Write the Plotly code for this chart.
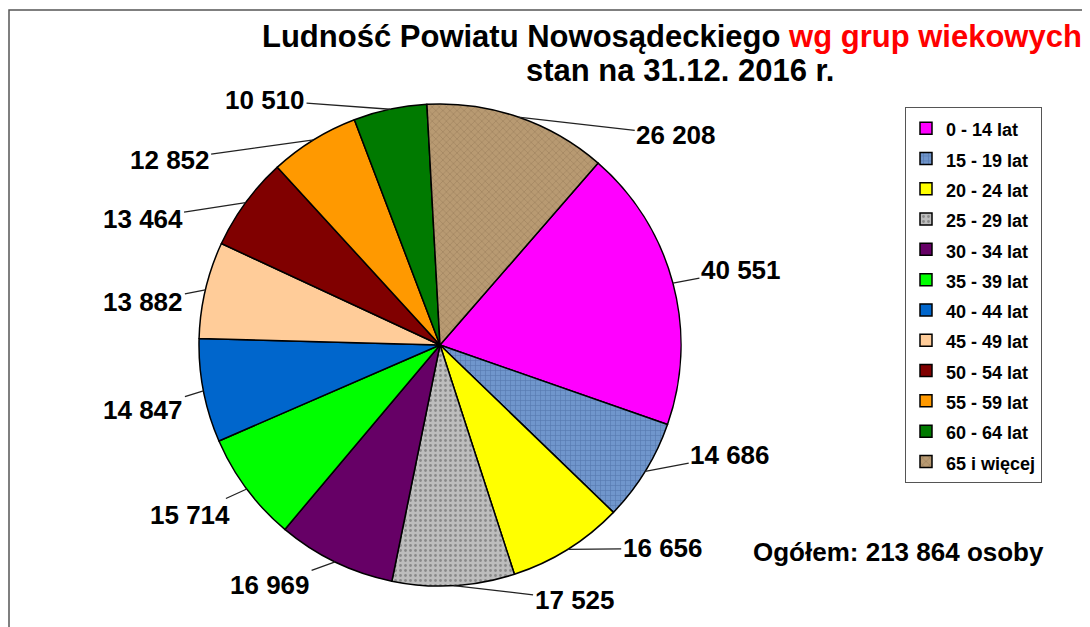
import math
import plotly.graph_objects as go

# ---- data ----
age_groups = ["0 - 14 lat", "15 - 19 lat", "20 - 24 lat", "25 - 29 lat", "30 - 34 lat",
              "35 - 39 lat", "40 - 44 lat", "45 - 49 lat", "50 - 54 lat", "55 - 59 lat",
              "60 - 64 lat", "65 i więcej"]
population = [40551, 14686, 16656, 17525, 16969, 15714, 14847, 13882, 13464, 12852, 10510, 26208]
value_labels = ["40 551", "14 686", "16 656", "17 525", "16 969", "15 714",
                "14 847", "13 882", "13 464", "12 852", "10 510", "26 208"]
total_label = "Ogółem: 213 864 osoby"

# ---- styles ----
slice_colors = ["#FF00FF", "#7096CC", "#FFFF00", "#BDBDBD", "#660066", "#00FF00",
                "#0066CC", "#FFCC99", "#800000", "#FF9900", "#007A00", "#B89A72"]
pattern_shapes = ["", "+", "", ".", "", "", "", "", "", "", "", "x"]
pattern_fg = ["#000", "#3E5F94", "#000", "#555555", "#000", "#000",
              "#000", "#000", "#000", "#000", "#000", "#8A6E4C"]
# label offsets (px) from slice edge point: (dx, dy)
label_offsets = [(68, -13), (85, -16), (95, -1), (121, 14), (-65, 23), (-57, 26),
                 (-60, 19), (-62, 12), (-103, 16), (-144, 20), (-125, -9), (158, 18)]

W, H = 1090, 627
OFF = 8  # page body margin
CX, CY, R = 440, 345, 241
ROT = 41
FONT = "Liberation Sans, Arial, sans-serif"


def px_x(x):
    return (x - OFF) / W


def px_y(y):
    return 1 - (y - OFF) / H


fig = go.Figure()
fig.add_trace(go.Pie(
    labels=[f"<span style='font-size:18px'>{g}</span>" for g in age_groups],
    values=population,
    sort=False,
    direction="clockwise",
    rotation=ROT,
    textinfo="none",
    hoverinfo="label+value",
    marker=dict(colors=slice_colors,
                line=dict(color="black", width=1.5),
                pattern=dict(shape=pattern_shapes, fgcolor=pattern_fg,
                             fillmode="overlay", size=5, solidity=0.25)),
    domain=dict(x=[px_x(CX - R), px_x(CX + R)], y=[px_y(CY + R), px_y(CY - R)]),
))

# value labels with leader lines, anchored at the slice's mid-angle on the rim
tot = sum(population)
cum = 0
annotations = []
for v, lab, (dx, dy) in zip(population, value_labels, label_offsets):
    mid = ROT + (cum + v / 2) / tot * 360
    cum += v
    a = math.radians(mid)
    px = CX + R * math.sin(a)
    py = CY - R * math.cos(a)
    annotations.append(dict(
        x=px_x(px), y=px_y(py), xref="paper", yref="paper",
        ax=dx, ay=dy, text=lab, showarrow=True, arrowhead=0, arrowwidth=1.3,
        arrowcolor="#222", standoff=0,
        font=dict(family=FONT, size=26, color="black", weight="bold"),
    ))

annotations.append(dict(
    x=px_x(672), y=px_y(37), xref="paper", yref="paper", showarrow=False,
    text="Ludność Powiatu Nowosądeckiego <span style='color:#FF0000'>wg grup wiekowych</span>",
    font=dict(family=FONT, size=31, color="black", weight="bold"),
    xanchor="center", yanchor="middle"))
annotations.append(dict(
    x=px_x(680), y=px_y(70), xref="paper", yref="paper", showarrow=False,
    text="stan na 31.12. 2016 r.",
    font=dict(family=FONT, size=31, color="black", weight="bold"),
    xanchor="center", yanchor="middle"))
annotations.append(dict(
    x=px_x(898), y=px_y(552), xref="paper", yref="paper", showarrow=False,
    text=total_label,
    font=dict(family=FONT, size=26, color="black", weight="bold"),
    xanchor="center", yanchor="middle"))

fig.update_layout(
    width=W, height=H,
    margin=dict(l=0, r=0, t=0, b=0),
    paper_bgcolor="white",
    plot_bgcolor="white",
    showlegend=True,
    legend=dict(x=px_x(905), y=px_y(107), xanchor="left", yanchor="top",
                bordercolor="#555555", borderwidth=1, bgcolor="white",
                itemwidth=30,
                font=dict(family=FONT, size=21, color="black", weight="bold")),
    annotations=annotations,
    shapes=[dict(type="rect", xref="paper", yref="paper",
                 x0=px_x(9), y0=-0.05, x1=1.05, y1=px_y(10),
                 line=dict(color="#555555", width=1.5), fillcolor="rgba(0,0,0,0)")],
)

fig.write_html("out.html")
